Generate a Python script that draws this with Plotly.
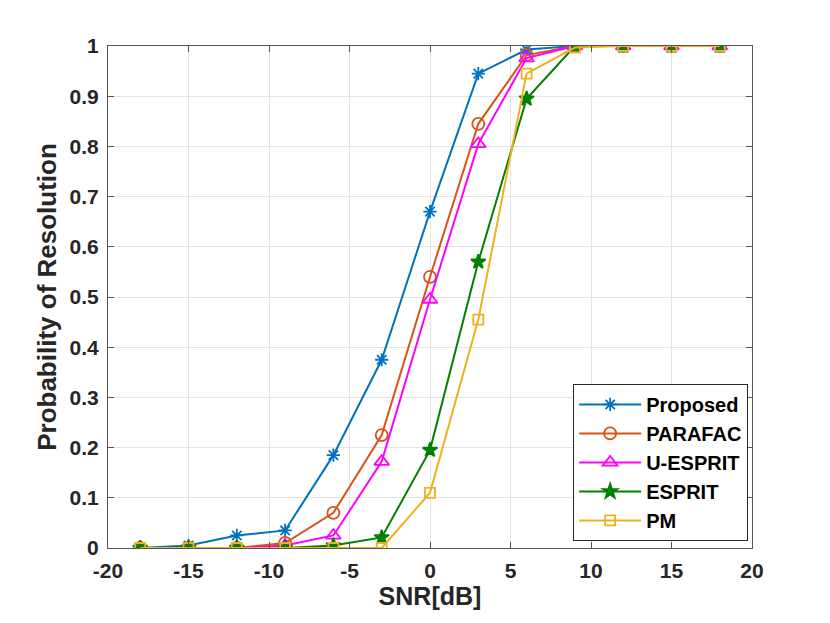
import plotly.graph_objects as go

snr = [-18, -15, -12, -9, -6, -3, 0, 3, 6, 9, 12, 15, 18]

proposed = [0, 0.005, 0.025, 0.035, 0.185, 0.375, 0.67, 0.945, 0.993, 1, 1, 1, 1]
parafac = [0, 0, 0, 0.01, 0.07, 0.225, 0.54, 0.845, 0.982, 1, 1, 1, 1]
u_esprit = [0, 0, 0, 0.005, 0.025, 0.172, 0.495, 0.805, 0.976, 1, 1, 1, 1]
esprit = [0, 0, 0, 0, 0.005, 0.021, 0.195, 0.57, 0.895, 1, 1, 1, 1]
pm = [0, 0, 0, 0, 0, 0, 0.11, 0.455, 0.945, 0.997, 1, 1, 1]

# tick labels (MATLAB style, plain hyphen)
x_ticks = [-20, -15, -10, -5, 0, 5, 10, 15, 20]
x_labels = ["-20", "-15", "-10", "-5", "0", "5", "10", "15", "20"]
y_ticks = [0, 0.1, 0.2, 0.3, 0.4, 0.5, 0.6, 0.7, 0.8, 0.9, 1]
y_labels = ["0", "0.1", "0.2", "0.3", "0.4", "0.5", "0.6", "0.7", "0.8", "0.9", "1"]

series = [
    ("Proposed", proposed, "#0072BD", "asterisk-open", 11),
    ("PARAFAC", parafac, "#D95319", "circle-open", 12),
    ("U-ESPRIT", u_esprit, "#FF00FF", "triangle-up-open", 13),
    ("ESPRIT", esprit, "#008000", "star", 11),
    ("PM", pm, "#EDB120", "square-open", 10),
]

fig = go.Figure()
for name, vals, color, symbol, size in series:
    fig.add_trace(go.Scatter(
        x=snr, y=vals, name=name, mode="lines+markers",
        line=dict(color=color, width=2),
        marker=dict(symbol=symbol, size=size, color=color,
                    line=dict(color=color, width=1.8)),
    ))

font_name = "Liberation Sans, Arial"
axis_common = dict(
    showgrid=True, gridcolor="#e3e3e3", gridwidth=1,
    showline=True, linecolor="#555555", linewidth=1, mirror="ticks",
    ticks="inside", ticklen=6, tickcolor="#555555",
    zeroline=False, automargin=False,
    tickfont=dict(family=font_name, size=21, color="#262626", weight="bold"),
)

# body has an 8px margin in the page, so plot-area margins are offset by 8
fig.update_layout(
    width=830, height=623,
    paper_bgcolor="white", plot_bgcolor="white",
    margin=dict(l=100, r=86, t=38, b=83),
    font=dict(family=font_name, color="#262626"),
    xaxis=dict(range=[-20, 20], tickvals=x_ticks, ticktext=x_labels,
               ticklabelstandoff=4,
               title=dict(text="<b>SNR[dB]</b>", font=dict(size=25), standoff=5),
               **axis_common),
    yaxis=dict(range=[0, 1], tickvals=y_ticks, ticktext=y_labels,
               ticklabelstandoff=4,
               title=dict(text="<b>Probability of Resolution</b>", font=dict(size=26), standoff=5),
               **axis_common),
    legend=dict(
        x=0.994, y=0.014, xanchor="right", yanchor="bottom",
        bgcolor="white", bordercolor="#262626", borderwidth=1,
        font=dict(size=20, family=font_name, color="#000000", weight="bold"),
        itemwidth=62, tracegroupgap=0,
    ),
)

fig.write_html("out.html")
